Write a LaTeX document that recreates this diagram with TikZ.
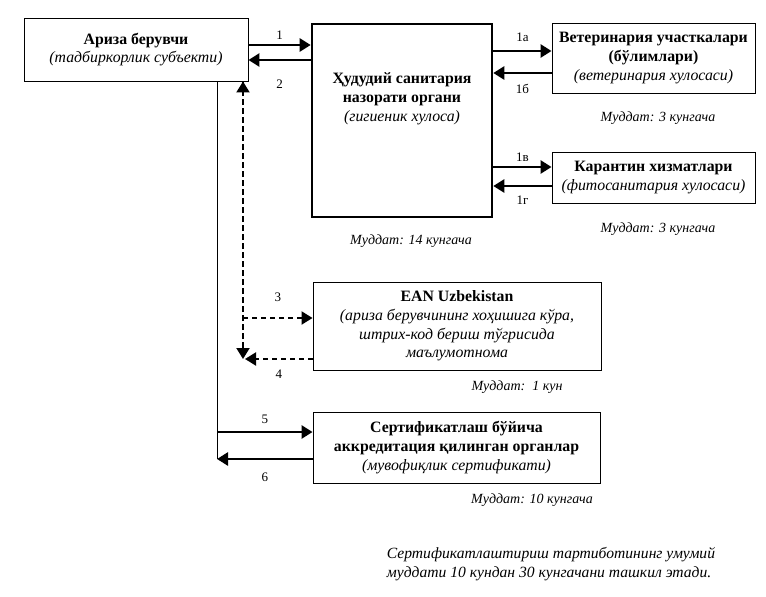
\documentclass[tikz,border=0pt]{standalone}
\usepackage{fontspec}
\setmainfont{Liberation Serif}
\usetikzlibrary{arrows.meta}

\begin{document}
\begin{tikzpicture}[auto,x=1pt,y=-1pt,
    box/.style={draw=black,line width=0.9pt,align=center,inner sep=1pt,font=\fontsize{15.8}{18.8}\selectfont},
    term/.style={font=\fontsize{14}{16}\itshape},
    tip/.style={-{Triangle[length=11pt,width=13pt]}}]
                    \useasboundingbox (0,0) rectangle (766,597);
                    \begin{scope}[every node/.style={box}]
                        \node[minimum width=224pt,minimum height=63pt] (Ariza) at (136,49.5) {\textbf{Ариза берувчи}\\\textit{(тадбиркорлик субъекти)}};
                        \node[line width=2.6pt,minimum width=180pt,minimum height=193pt] (Sanit) at (402,120.5) {};
                        \node[minimum width=203pt,minimum height=70pt] (Vet) at (653.5,58) {\textbf{Ветеринария участкалари}\\\textbf{(бўлимлари)}\\\textit{(ветеринария хулосаси)}};
                        \node[minimum width=203pt,minimum height=51pt] (Kar) at (653.5,177.5) {\textbf{Карантин хизматлари}\\\textit{(фитосанитария хулосаси)}};
                        \node[minimum width=288pt,minimum height=88pt] (EAN) at (457,326) {\textbf{EAN Uzbekistan}\\\textit{(ариза берувчининг хоҳишига кўра,}\\\textit{штрих-код бериш тўгрисида}\\\textit{маълумотнома}};
                        \node[minimum width=287pt,minimum height=71pt] (Sert) at (456.5,447.5) {\textbf{Сертификатлаш бўйича}\\\textbf{аккредитация қилинган органлар}\\\textit{(мувофиқлик сертификати)}};
                        \node[draw=none] (SanitText) at (402,99) {\textbf{Ҳудудий санитария}\\\textbf{назорати органи}\\\textit{(гигиеник хулоса)}};
                    \end{scope}
                    \begin{scope}[every node/.style={term}]
                        \node (T1) at (658,118) {Муддат: 3 кунгача};
                        \node (T2) at (658,229) {Муддат: 3 кунгача};
                        \node (T3) at (411,241) {Муддат: 14 кунгача};
                        \node (T4) at (517,387) {Муддат:\ \ 1 кун};
                        \node (T5) at (532,500) {Муддат: 10 кунгача};
                        \node[align=left,font=\fontsize{15.6}{19}\itshape] (Jami) at (551,564) {Сертификатлаштириш тартиботининг умумий\\муддати 10 кундан 30 кунгачани ташкил этади.};
                    \end{scope}
                    \coordinate (Pastki) at (217,459);
                    \coordinate (Burchak) at (243,357);
                    \draw[line width=0.9pt] (Ariza.south -| 217,0) -- (Pastki);
                    \begin{scope}[every edge/.style={draw=black,line width=2.6pt,tip},every node/.style={font=\fontsize{13}{15}\selectfont,inner sep=4pt}]
                        \draw (Ariza.east |- 0,45) edge node{1} (Sanit.west |- 0,45);
                        \draw (Sanit.west |- 0,60) edge node[inner sep=10pt,yshift=-9pt]{2} (Ariza.east |- 0,60);
                        \draw (Sanit.east |- 0,51) edge node[yshift=4pt]{1а} (Vet.west |- 0,51);
                        \draw (Vet.west |- 0,73) edge node[yshift=-6pt]{1б} (Sanit.east |- 0,73);
                        \draw (Sanit.east |- 0,167) edge node{1в} (Kar.west |- 0,167);
                        \draw (Kar.west |- 0,186) edge node[yshift=-5pt]{1г} (Sanit.east |- 0,186);
                        \draw (217,432) edge node[yshift=3pt]{5} (Sert.west |- 0,432);
                        \draw (Sert.west |- 0,459) edge node[yshift=-9pt]{6} (Pastki);
                    \end{scope}
                    \begin{scope}[every edge/.style={draw=black,line width=2pt,dash pattern=on 5pt off 4pt,tip},every node/.style={font=\fontsize{13}{15}\selectfont,inner sep=6pt}]
                        \draw (Burchak) edge (Ariza.south -| Burchak);
                        \draw (Ariza.south -| Burchak) edge ([yshift=-2pt]Burchak);
                        \draw (Burchak |- 0,318) edge node[yshift=9pt]{3} (EAN.west |- 0,318);
                        \draw (EAN.west |- 0,359) edge node[yshift=-4pt]{4} (245,359);
                    \end{scope}
                \end{tikzpicture}
\end{document}
